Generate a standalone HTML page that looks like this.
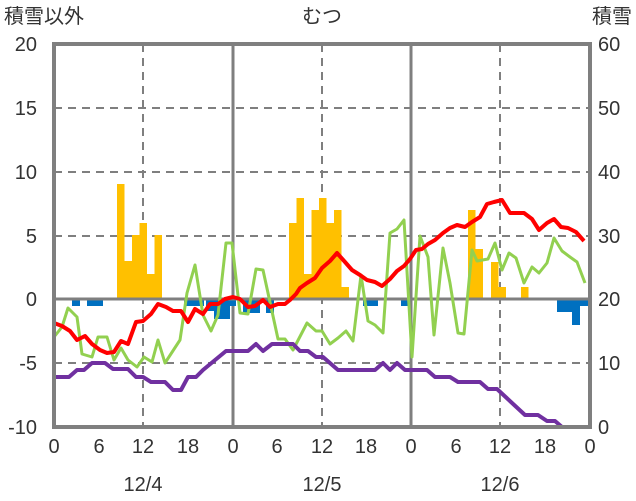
<!DOCTYPE html><html><head><meta charset="utf-8"><style>body{margin:0;background:#fff}svg{display:block}text{font-family:"Liberation Sans","Noto Sans CJK JP",sans-serif;fill:#333;font-size:20px}</style></head><body>
<svg width="636" height="501" viewBox="0 0 636 501">
<g stroke="#7f7f7f" stroke-width="2" stroke-dasharray="8,6">
<line x1="54" y1="108" x2="590" y2="108"/><line x1="54" y1="172" x2="590" y2="172"/><line x1="54" y1="236" x2="590" y2="236"/><line x1="54" y1="363" x2="590" y2="363"/>
<line x1="143" y1="44" x2="143" y2="427"/><line x1="322" y1="44" x2="322" y2="427"/><line x1="500" y1="44" x2="500" y2="427"/>
</g>
<g stroke="#7f7f7f" stroke-width="3"><line x1="233" y1="44" x2="233" y2="427"/><line x1="411" y1="44" x2="411" y2="427"/></g>
<g fill="#ffc000">
<rect x="117" y="184" width="7.5" height="115"/><rect x="124.5" y="261" width="7.5" height="38"/><rect x="132" y="235" width="7.5" height="64"/><rect x="139.5" y="223" width="7.5" height="76"/><rect x="147" y="274" width="7.5" height="25"/><rect x="154.5" y="235" width="7.5" height="64"/>
<rect x="289" y="223" width="7.5" height="76"/><rect x="296.5" y="198" width="7.5" height="101"/><rect x="304" y="274" width="7.5" height="25"/><rect x="311.5" y="210" width="7.5" height="89"/><rect x="319" y="198" width="7.5" height="101"/><rect x="326.5" y="223" width="7.5" height="76"/><rect x="334" y="210" width="7.5" height="89"/><rect x="341.5" y="287" width="7.5" height="12"/>
<rect x="468" y="210" width="7.5" height="89"/><rect x="475.5" y="249" width="7.5" height="50"/><rect x="491" y="262" width="7.5" height="37"/><rect x="498.5" y="287" width="7.5" height="12"/><rect x="521" y="287" width="7.5" height="12"/>
</g>
<g fill="#0070c0">
<rect x="72" y="299" width="8" height="7"/><rect x="87" y="299" width="16" height="7"/><rect x="184" y="299" width="20" height="7"/><rect x="206" y="299" width="8" height="12"/><rect x="214" y="299" width="16" height="20"/><rect x="230" y="299" width="6" height="7"/>
<rect x="243" y="299" width="17" height="14"/><rect x="266" y="299" width="8" height="14"/><rect x="363" y="299" width="15" height="7"/><rect x="401" y="299" width="8" height="7"/>
<rect x="557" y="299" width="15" height="13"/><rect x="572" y="299" width="8" height="26"/><rect x="580" y="299" width="8" height="7"/>
</g>
<line x1="54" y1="299" x2="590" y2="299" stroke="#7f7f7f" stroke-width="3"/>
<g fill="none" stroke-linejoin="round">
<polyline stroke="#92d050" stroke-width="3" points="54,337 62,327 68,308 77,317 82,354 92,357 98,337 107,337 114,360 121,348 128,360 137,367 144,357 152,362 158,340 165,363 180,340 187,293 195,265 203,315 211,331 218,315 226,243 232,243 240,313 248,314 256,269 263,270 278,339 285,339 293,350 307,323 316,331 322,331 330,344 338,338 346,331 353,341 361,275 368,321 375,325 383,333 390,233 397,229 404,220 412,357 420,236 428,257 434,335 443,248 450,283 458,333 464,334 472,250 477,261 488,259 495,243 502,270 509,253 516,258 524,283 532,267 539,273 547,263 554,238 562,251 570,257 577,262 585,283"/>
<polyline stroke="#ff0000" stroke-width="4" points="54,323 62,326 70,331 77,340 85,336 92,344 100,350 107,353 114,352 121,341 128,344 136,322 143,321 151,314 158,304 166,307 173,311 181,311 188,322 195,309 203,314 210,304 218,304 225,299 233,297 240,299 248,307 255,306 263,300 270,307 278,304 285,304 290,300 296,294 300,288 307,283 315,278 322,268 330,261 337,253 345,262 352,270 360,275 367,280 375,282 382,286 390,279 397,271 404,266 410,259 416,250 422,249 428,244 435,240 443,233 450,228 457,225 465,227 472,222 480,217 487,204 494,202 502,200 510,213 517,213 524,213 532,219 539,230 547,223 554,219 561,227 568,228 576,232 584,241"/>
<polyline stroke="#7030a0" stroke-width="4" points="54,377 69,377 77,370 84,370 92,363 105,363 113,369 128,369 136,377 143,377 151,382 165,382 173,390 181,390 188,377 196,377 203,370 226,351 248,351 256,344 263,351 272,344 293,344 300,351 308,351 316,357 323,357 338,370 375,370 383,363 390,370 397,363 405,370 427,370 435,377 450,377 458,382 480,382 488,389 497,389 525,415 538,415 547,421 555,421 562,427 585,427"/>
</g>
<rect x="54" y="44" width="536" height="383" fill="none" stroke="#7f7f7f" stroke-width="4"/>
<text x="4" y="23">積雪以外</text><text x="322" y="23" text-anchor="middle">むつ</text><text x="632" y="23" text-anchor="end">積雪</text>
<g text-anchor="end"><text x="37" y="51">20</text><text x="37" y="115">15</text><text x="37" y="179">10</text><text x="37" y="243">5</text><text x="37" y="306">0</text><text x="37" y="370">-5</text><text x="37" y="434">-10</text></g>
<g><text x="598" y="51">60</text><text x="598" y="115">50</text><text x="598" y="179">40</text><text x="598" y="243">30</text><text x="598" y="306">20</text><text x="598" y="370">10</text><text x="598" y="434">0</text></g>
<g text-anchor="middle"><text x="54" y="453">0</text><text x="99" y="453">6</text><text x="143" y="453">12</text><text x="188" y="453">18</text><text x="233" y="453">0</text><text x="277" y="453">6</text><text x="322" y="453">12</text><text x="366" y="453">18</text><text x="411" y="453">0</text><text x="456" y="453">6</text><text x="500" y="453">12</text><text x="545" y="453">18</text><text x="590" y="453">0</text>
<text x="143" y="491">12/4</text><text x="322" y="491">12/5</text><text x="500" y="491">12/6</text></g>
</svg></body></html>
